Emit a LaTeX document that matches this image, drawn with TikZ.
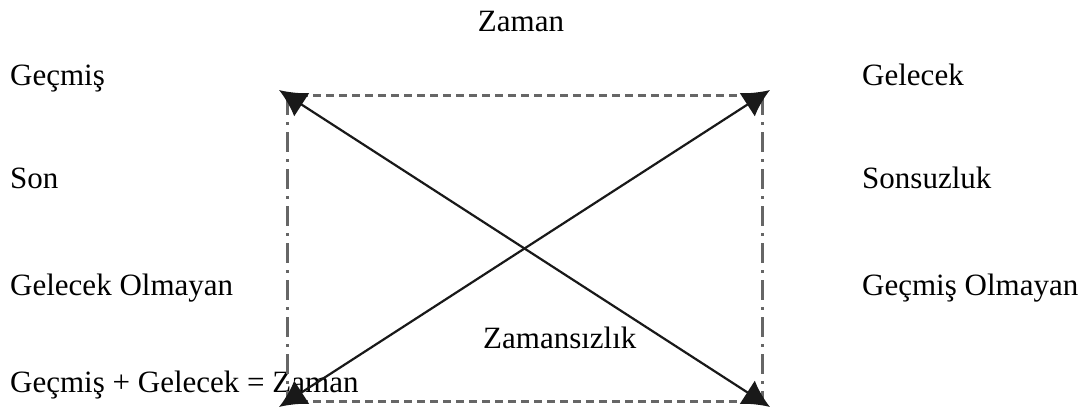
\documentclass[tikz,border=0pt]{standalone}
\usepackage{fontspec}
\setmainfont{Liberation Serif}
\usetikzlibrary{arrows.meta}
\begin{document}
\begin{tikzpicture}[x=1pt,y=-1pt,
  lbl/.style={inner sep=0pt,anchor=base west,font=\fontsize{31}{36}\selectfont},
  hdash/.style={draw=black!60,line width=3pt,dash pattern=on 8pt off 5pt},
  vdash/.style={draw=black!60,line width=3pt,dash pattern=on 20pt off 7pt on 3pt off 7pt},
  diag/.style={draw=black!90,line width=2.2pt,{Latex[length=27pt,width=28pt]}-{Latex[length=27pt,width=28pt]}}]
\useasboundingbox (0,0) rectangle (1087,412);
\coordinate (TL) at (287,95);
\coordinate (TR) at (762,95);
\coordinate (BL) at (287,401);
\coordinate (BR) at (762,401);
\coordinate (tl) at (279,90);
\coordinate (tr) at (770,90);
\coordinate (bl) at (279,407);
\coordinate (br) at (770,407);
\node[lbl,anchor=base] (zaman) at (521,32) {Zaman};
\node[lbl] (gecmis) at (10,85) {Geçmiş};
\node[lbl] (gelecek) at (862,85) {Gelecek};
\node[lbl] (son) at (10,188) {Son};
\node[lbl] (sonsuz) at (862,188) {Sonsuzluk};
\node[lbl] (gelol) at (10,295) {Gelecek Olmayan};
\node[lbl] (gecol) at (862,295) {Geçmiş Olmayan};
\node[lbl] (zamsiz) at (483,348) {Zamansızlık};
\node[lbl] (denk) at (10,392) {Geçmiş + Gelecek = Zaman};
\draw[hdash] (TL) -- (TR);
\draw[hdash] (BL) -- (BR);
\draw[vdash] (TL) -- (BL);
\draw[vdash] (TR) -- (BR);
\draw[diag] (tl) -- (br);
\draw[diag] (bl) -- (tr);
\end{tikzpicture}
\end{document}
